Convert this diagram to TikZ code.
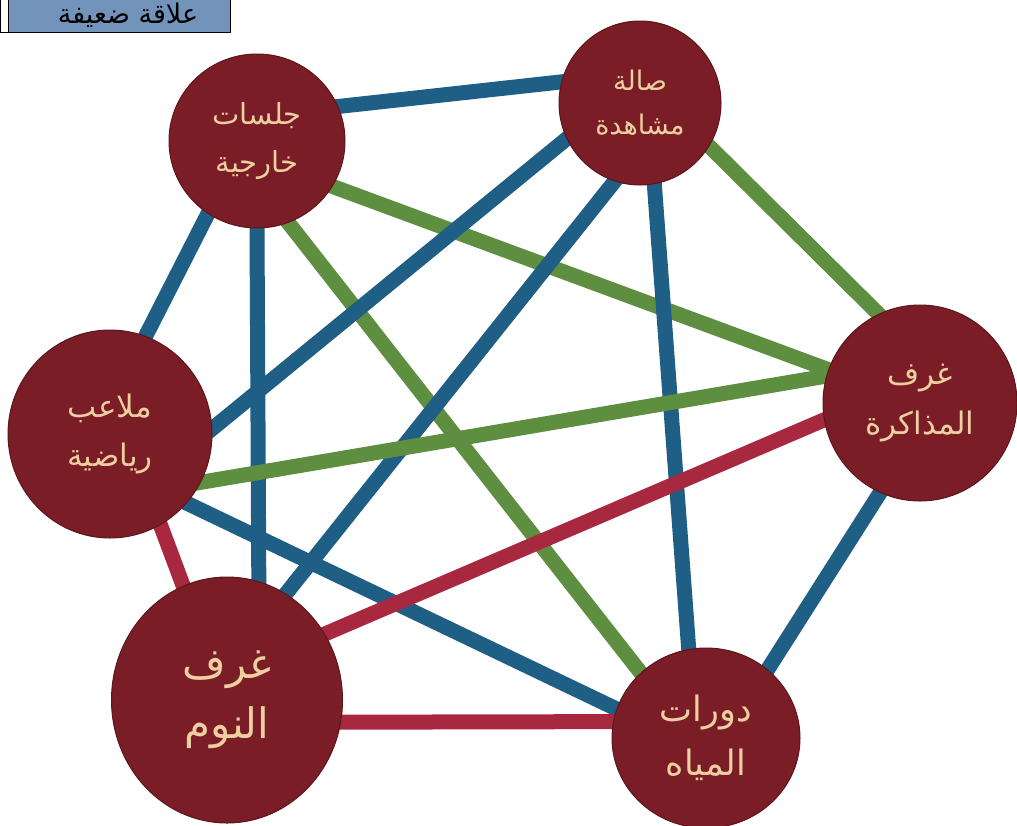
\documentclass[tikz,border=0pt]{standalone}
\usepackage{fontspec}
\newfontfamily\arabicfont[Script=Arabic]{DejaVu Sans}
\TeXXeTstate=1
\usetikzlibrary{shapes.geometric,backgrounds}

\definecolor{roomred}{HTML}{7A1D26}
\definecolor{linkblue}{HTML}{1F5E85}
\definecolor{linkgreen}{HTML}{5E8E3F}
\definecolor{linkred}{HTML}{A8293F}
\definecolor{labelgold}{HTML}{EDCFA0}
\definecolor{keyblue}{HTML}{7394BA}

\tikzset{
  room/.style={ellipse, fill=roomred, draw=roomred!75!black, line width=1pt,
    inner sep=0pt, text=labelgold, align=center},
  link/.style={line width=15pt, shorten <=-12pt, shorten >=-12pt}
}

\begin{document}
\begin{tikzpicture}[x=1pt, y=-1pt]
  \path[use as bounding box, clip] (0,0) rectangle (1017,825);

  % rooms
  \node[room, minimum width=176pt, minimum height=174pt,
    font=\arabicfont\fontsize{29}{48}\selectfont] (jalasat) at (257,141)
    {\beginR جلسات\endR\\\beginR خارجية\endR};
  \node[room, minimum width=162pt, minimum height=164pt,
    font=\arabicfont\fontsize{27}{44}\selectfont] (sala) at (640,103)
    {\beginR صالة\endR\\\beginR مشاهدة\endR};
  \node[room, minimum width=204pt, minimum height=208pt,
    font=\arabicfont\fontsize{31}{48}\selectfont] (malaeb) at (110,434)
    {\beginR ملاعب\endR\\\beginR رياضية\endR};
  \node[room, minimum width=194pt, minimum height=196pt,
    font=\arabicfont\fontsize{31}{50}\selectfont] (mudhakara) at (920,403)
    {\beginR غرف\endR\\\beginR المذاكرة\endR};
  \node[room, minimum width=231pt, minimum height=246pt,
    font=\arabicfont\fontsize{42}{60}\selectfont] (nawm) at (227,700)
    {\beginR غرف\endR\\\beginR النوم\endR};
  \node[room, minimum width=188pt, minimum height=180pt,
    font=\arabicfont\fontsize{35}{54}\selectfont] (dawrat) at (706,738)
    {\beginR دورات\endR\\\beginR المياه\endR};

  % links
  \begin{scope}[on background layer]
    \draw[link, linkblue] (jalasat.23) to (sala.165);
    \draw[link, linkblue] (jalasat.236) to (malaeb.70);
    \draw[link, linkblue] (jalasat.270) to (nawm.75);
    \draw[link, linkgreen] (jalasat.-31) to (mudhakara.160);
    \draw[link, linkgreen] (jalasat.-69) to (dawrat.135);
    \draw[link, linkblue] (sala.206) to (malaeb.3);
    \draw[link, linkblue] (sala.252) to (nawm.61);
    \draw[link, linkblue] (sala.-80) to (dawrat.101);
    \draw[link, linkgreen] (sala.-32) to (mudhakara.115);
    \draw[link, linkgreen] (malaeb.-28) to (mudhakara.164);
    \draw[link, linkblue] (malaeb.-42) to (dawrat.162);
    \draw[link, linkred] (malaeb.-61) to (nawm.111);
    \draw[link, linkred] (nawm.34) to (mudhakara.190);
    \draw[link, linkred] (nawm.-11) to (dawrat.170);
    \draw[link, linkblue] (mudhakara.246) to (dawrat.48);
  \end{scope}

  % key
  \draw[line width=1pt] (0,-10) rectangle (8,32);
  \draw[line width=1pt, fill=keyblue] (8,-10) rectangle (230,32);
  \node[font=\arabicfont\fontsize{27}{30}\selectfont] (key) at (128,15)
    {\beginR علاقة ضعيفة\endR};
\end{tikzpicture}
\end{document}
